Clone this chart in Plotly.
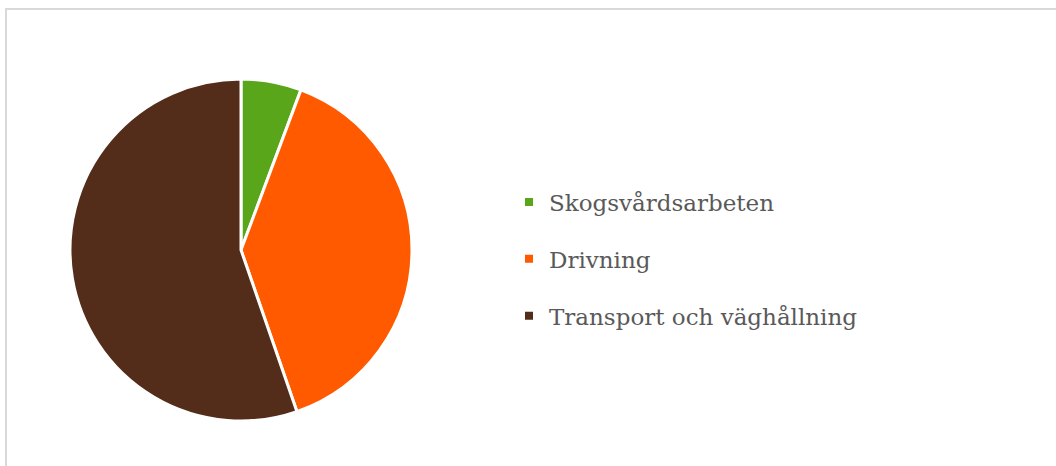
import plotly.graph_objects as go

categories = ["Skogsvårdsarbeten", "Drivning", "Transport och väghållning"]
values = [5.7, 39.0, 55.3]
colors = ["#5AA61B", "#FF5A00", "#542D1A"]

W, H = 1056, 466

fig = go.Figure()
fig.add_trace(go.Pie(
    labels=categories, values=values, sort=False, direction="clockwise", rotation=0,
    marker=dict(colors=colors, line=dict(color="white", width=3)),
    textinfo="none", hoverinfo="label+percent", showlegend=False,
    domain=dict(x=[70 / W, 412 / W], y=[1 - 421 / H, 1 - 79 / H]),
))
# legend entries (one per category, so spacing can be controlled)
for name, col in zip(categories, colors):
    fig.add_trace(go.Scatter(
        x=[None], y=[None], mode="markers", name=name, legendgroup=name,
        marker=dict(symbol="square", size=8, color=col),
    ))

fig.update_layout(
    width=W, height=H, margin=dict(l=0, r=0, t=0, b=0),
    paper_bgcolor="white", plot_bgcolor="white",
    xaxis=dict(visible=False), yaxis=dict(visible=False),
    font=dict(family="DejaVu Serif", color="#595959"),
    legend=dict(x=509 / W, xanchor="left", y=1 - 259 / H, yanchor="middle",
                font=dict(size=23, color="#595959", family="DejaVu Serif"),
                tracegroupgap=24, bgcolor="rgba(0,0,0,0)"),
    shapes=[dict(type="rect", xref="paper", yref="paper",
                 x0=6 / W, x1=1.02, y0=-0.02, y1=1 - 9 / H,
                 line=dict(color="#D9D9D9", width=2), layer="below")],
)
fig.write_html("out.html")
